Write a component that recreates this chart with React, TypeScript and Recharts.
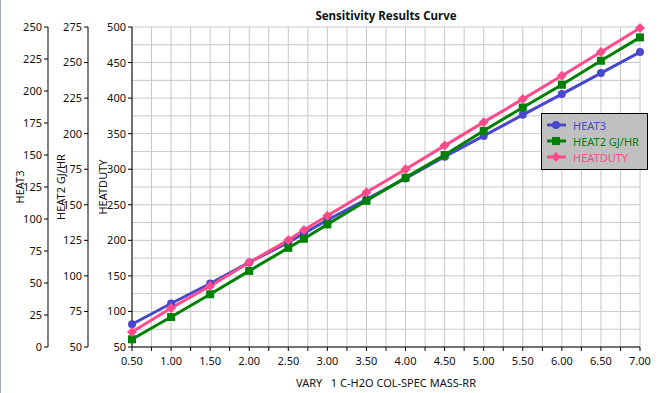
import { LineChart, Line, XAxis, YAxis, CartesianGrid, Legend } from "recharts"

// values
const xValues = [0.5, 1.0, 1.5, 2.0, 2.5, 2.7, 3.0, 3.5, 4.0, 4.5, 5.0, 5.5, 6.0, 6.5, 7.0]
const heat3 = [17.8, 34.0, 49.6, 66.1, 81.7, 88.8, 99.2, 115.4, 131.7, 148.7, 164.9, 181.4, 197.6, 214.0, 230.4]
const heat2 = [55.4, 71.1, 87.1, 103.5, 119.7, 126.1, 136.2, 152.8, 169.1, 185.0, 202.0, 218.4, 234.4, 251.3, 267.7]
const heatDuty = [71.1, 104.9, 135.9, 168.9, 200.3, 214.4, 234.6, 267.5, 299.9, 333.2, 366.2, 398.6, 431.4, 464.8, 498.6]

const xTicks = [
  0.5, 0.75, 1, 1.25, 1.5, 1.75, 2, 2.25, 2.5, 2.75, 3, 3.25, 3.5, 3.75, 4,
  4.25, 4.5, 4.75, 5, 5.25, 5.5, 5.75, 6, 6.25, 6.5, 6.75, 7,
]
const heat3Ticks = [0, 25, 50, 75, 100, 125, 150, 175, 200, 225, 250]
const heat2Ticks = [50, 75, 100, 125, 150, 175, 200, 225, 250, 275]
const dutyTicks = [
  50, 75, 100, 125, 150, 175, 200, 225, 250, 275, 300, 325, 350, 375, 400, 425, 450, 475, 500,
]

const seriesNames = ["HEAT3", "HEAT2 GJ/HR", "HEATDUTY"]
const xTitle = "VARY\u00a0\u00a0\u00a01 C-H2O COL-SPEC MASS-RR"

const BLUE = "#4848cc"
const GREEN = "#008000"
const PINK = "#ff4b8c"
const FONT = "'Noto Sans', sans-serif"
const TEXT = "#111"

const data = xValues.map((x, i) => ({
  x,
  heat3: heat3[i],
  heat2: heat2[i],
  duty: heatDuty[i],
}))

const circleDot = (props: any) => (
  <circle key={`c-${props.index}`} cx={props.cx} cy={props.cy} r={4} fill={BLUE} />
)
const squareDot = (props: any) => (
  <rect key={`s-${props.index}`} x={props.cx - 4} y={props.cy - 4} width={8} height={8} fill={GREEN} />
)
const diamondDot = (props: any) => (
  <path
    key={`d-${props.index}`}
    d={`M${props.cx},${props.cy - 5} L${props.cx + 5},${props.cy} L${props.cx},${props.cy + 5} L${props.cx - 5},${props.cy} Z`}
    fill={PINK}
  />
)

const axisTitle = (text: string, dx: number) => (props: any) => {
  const vb = props.viewBox
  const cx = vb.x + dx
  const cy = vb.y + vb.height / 2
  return (
    <text
      x={cx}
      y={cy}
      transform={`rotate(-90 ${cx} ${cy})`}
      textAnchor="middle"
      dominantBaseline="central"
      fontSize={11}
      fontFamily={FONT}
      fill={TEXT}
    >
      {text}
    </text>
  )
}

// HEATDUTY gets a gridline every 25 but a label every 50
const dutyTick = (props: any) => {
  const v = props.payload.value
  if (v % 50 !== 0) return <g key={`t-${props.index}`} />
  return (
    <g key={`t-${props.index}`}>
      <line x1={props.x + 2} x2={props.x + 6} y1={props.y} y2={props.y} stroke="#000" />
      <text x={props.x} y={props.y + 4} textAnchor="end" fontSize={11} fontFamily={FONT} fill={TEXT}>
        {v}
      </text>
    </g>
  )
}

const legendRows = [
  { name: seriesNames[0], color: BLUE, shape: "circle" },
  { name: seriesNames[1], color: GREEN, shape: "square" },
  { name: seriesNames[2], color: PINK, shape: "diamond" },
]

const renderLegend = () => (
  <div
    style={{
      width: 105,
      height: 52,
      background: "#c0c0c0",
      border: "1px solid #000",
      fontFamily: FONT,
      fontSize: 11,
      paddingTop: 3,
      boxSizing: "content-box",
    }}
  >
    {legendRows.map((r) => (
      <div key={r.name} style={{ display: "flex", alignItems: "center", height: 16 }}>
        <svg width={31} height={14} style={{ marginLeft: 4 }}>
          <line x1={1} x2={20} y1={7} y2={7} stroke={r.color} strokeWidth={3} />
          {r.shape === "circle" && <circle cx={10} cy={7} r={4} fill={r.color} />}
          {r.shape === "square" && <rect x={6} y={3} width={8} height={8} fill={r.color} />}
          {r.shape === "diamond" && <path d="M10,2 L15,7 L10,12 L5,7 Z" fill={r.color} />}
        </svg>
        <span style={{ color: r.color, marginLeft: -4 }}>{r.name}</span>
      </div>
    ))}
  </div>
)

export default function App() {
  return (
    <div
      style={{
        position: "fixed",
        left: 0,
        top: 0,
        width: 659,
        height: 393,
        background: "#fff",
      }}
    >
      <div style={{ position: "absolute", left: 0, top: 0, width: 1, height: 393, background: "#a0a8b4" }} />
      <div
        style={{
          position: "absolute",
          left: 132,
          width: 508,
          top: 8,
          textAlign: "center",
          fontFamily: FONT,
          fontWeight: 700,
          fontSize: 11.5,
          color: TEXT,
        }}
      >
        Sensitivity Results Curve
      </div>
      <LineChart
        width={659}
        height={393}
        data={data}
        margin={{ top: 27, right: 19, bottom: 0, left: 0 }}
      >
        <CartesianGrid yAxisId="duty" stroke="#c8c8c8" />
        <XAxis
          dataKey="x"
          type="number"
          domain={[0.5, 7]}
          ticks={xTicks}
          interval={0}
          height={46}
          tickSize={4}
          tickMargin={6}
          stroke="#000"
          tick={{ fontSize: 11, fontFamily: FONT, fill: TEXT }}
          tickFormatter={(v: number) => (Math.round(v * 4) % 2 === 0 ? v.toFixed(2) : "")}
          label={{
            value: xTitle,
            position: "insideBottom",
            offset: 6,
            style: { fontSize: 11, fontFamily: FONT, fill: TEXT },
          }}
        />
        <YAxis
          yAxisId="duty"
          domain={[50, 500]}
          ticks={dutyTicks}
          interval={0}
          width={44}
          tickSize={4}
          tickMargin={2}
          tickLine={false}
          stroke="#000"
          tick={dutyTick}
          label={{ content: axisTitle("HEATDUTY", 14) }}
        />
        <YAxis
          yAxisId="heat2"
          domain={[50, 275]}
          ticks={heat2Ticks}
          interval={0}
          width={40}
          tickSize={4}
          tickMargin={2}
          stroke="#000"
          tick={{ fontSize: 11, fontFamily: FONT, fill: TEXT }}
          label={{ content: axisTitle("HEAT2 GJ/HR", 12) }}
        />
        <YAxis
          yAxisId="heat3"
          domain={[0, 250]}
          ticks={heat3Ticks}
          interval={0}
          width={48}
          tickSize={4}
          tickMargin={2}
          stroke="#000"
          tick={{ fontSize: 11, fontFamily: FONT, fill: TEXT }}
          label={{ content: axisTitle("HEAT3", 19) }}
        />
        <Line
          yAxisId="heat3"
          dataKey="heat3"
          name={seriesNames[0]}
          stroke={BLUE}
          strokeWidth={3}
          dot={circleDot}
          isAnimationActive={false}
        />
        <Line
          yAxisId="heat2"
          dataKey="heat2"
          name={seriesNames[1]}
          stroke={GREEN}
          strokeWidth={3}
          dot={squareDot}
          isAnimationActive={false}
        />
        <Line
          yAxisId="duty"
          dataKey="duty"
          name={seriesNames[2]}
          stroke={PINK}
          strokeWidth={3}
          dot={diamondDot}
          isAnimationActive={false}
        />
        <Legend
          layout="vertical"
          align="center"
          verticalAlign="middle"
          content={renderLegend}
          wrapperStyle={{ position: "absolute", left: 541, top: 113, width: 107, height: 56 }}
        />
      </LineChart>
    </div>
  )
}
